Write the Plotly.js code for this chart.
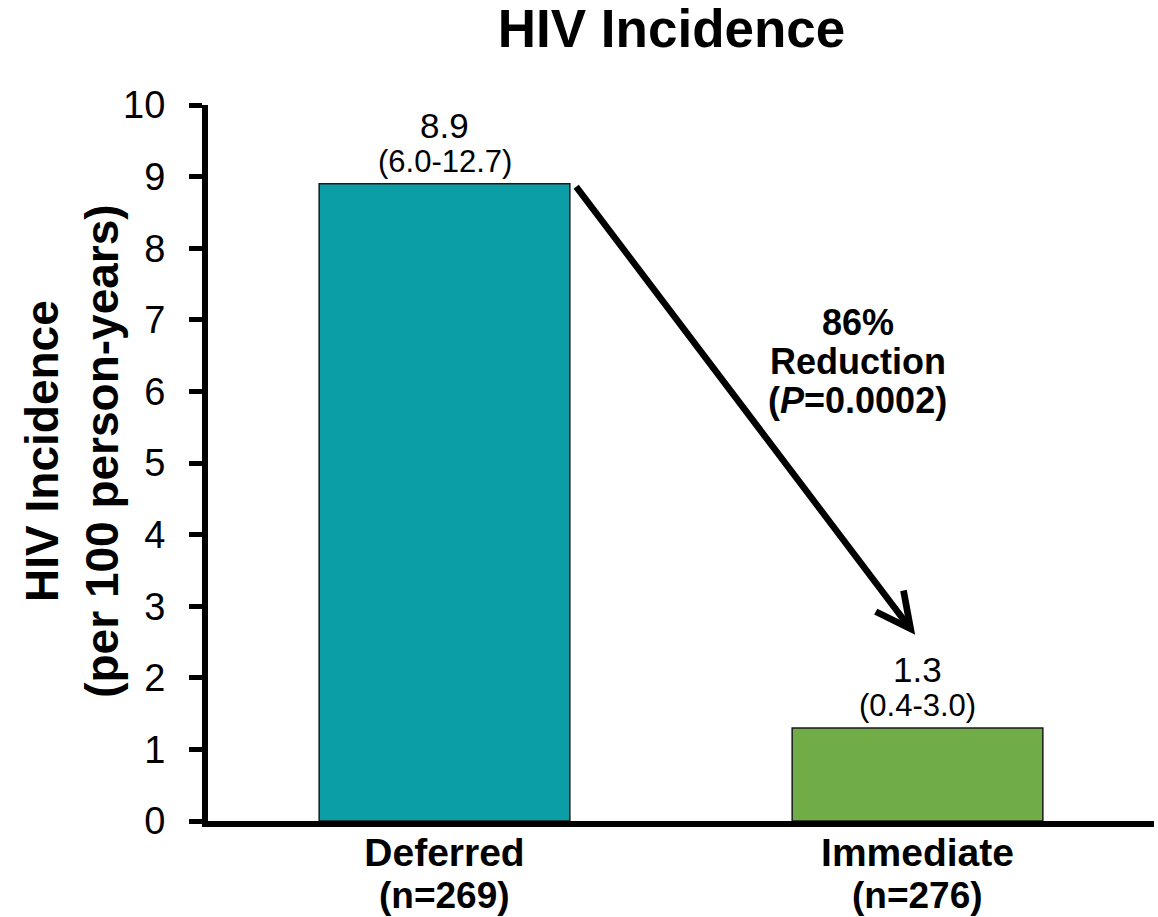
<!DOCTYPE html>
<html>
<head>
<meta charset="utf-8">
<script src="https://cdn.plot.ly/plotly-3.0.1.min.js"></script>
<style>html,body{margin:0;padding:0;background:#fff;}#chart{width:1158px;height:917px;}</style>
</head>
<body>
<div id="chart"></div>
<script>
// ---- data ----
const categories = ['Deferred', 'Immediate'];
const sampleSizes = [269, 276];
const incidence = [8.9, 1.3];
const ciLow = [6.0, 0.4];
const ciHigh = [12.7, 3.0];
const barColors = ['#0C9EA7', '#70AD47'];
const yTickVals = [0,1,2,3,4,5,6,7,8,9,10];
const reductionLines = ['86%', 'Reduction', '(<i>P</i>=0.0002)'];
const yTitleText = 'HIV Incidence<br>(per 100 person-years)';

const FONT = 'Liberation Sans, Arial, Helvetica, sans-serif';

const trace = {
  type: 'bar',
  x: categories,
  y: incidence,
  marker: {color: barColors, line: {color: '#1a1a1a', width: 1.5}},
  hoverinfo: 'skip',
  showlegend: false
};

const annotations = [];
categories.forEach((c, i) => {
  annotations.push({
    x: c, y: incidence[i], xref: 'x', yref: 'y',
    text: incidence[i].toFixed(1), showarrow: false,
    yanchor: 'middle', yshift: 58,
    font: {family: FONT, size: 35, color: '#000'}
  });
  annotations.push({
    x: c, y: incidence[i], xref: 'x', yref: 'y',
    text: '(' + ciLow[i].toFixed(1) + '-' + ciHigh[i].toFixed(1) + ')', showarrow: false,
    yanchor: 'middle', yshift: 22,
    font: {family: FONT, size: 31, color: '#000'}
  });
  annotations.push({
    x: c, y: 0, xref: 'x', yref: 'y',
    text: '(n=' + sampleSizes[i] + ')', showarrow: false,
    yanchor: 'middle', yshift: -74, borderpad: 0,
    font: {family: FONT, size: 37, color: '#000', weight: 'bold'}
  });
});

// reduction arrow from top of deferred bar toward immediate bar
annotations.push({
  x: 0.995, y: 2.60, xref: 'x', yref: 'y',
  ax: 0.276, ay: incidence[0] - 0.02, axref: 'x', ayref: 'y',
  text: '', showarrow: true, arrowhead: 5, arrowsize: 1.05, arrowwidth: 6.5,
  arrowcolor: '#000', standoff: 0, startstandoff: 0
});

reductionLines.forEach((t, k) => {
  annotations.push({
    x: 0.874, y: 6.42, xref: 'x', yref: 'y',
    text: '<b>' + t + '</b>', showarrow: false,
    yanchor: 'middle', yshift: (1 - k) * 39,
    font: {family: FONT, size: 36, color: '#000'}
  });
});

// y-axis title
annotations.push({
  x: -0.1438, y: 0.517, xref: 'paper', yref: 'paper',
  text: '<b>' + yTitleText + '</b>', showarrow: false, textangle: -90,
  xanchor: 'center', yanchor: 'middle',
  font: {family: FONT, size: 46, color: '#000'}
});

const layout = {
  width: 1158, height: 917,
  margin: {l: 208, r: 4, t: 105, b: 96},
  paper_bgcolor: '#fff', plot_bgcolor: '#fff',
  bargap: 0.47,
  title: {
    text: '<b>HIV Incidence</b>',
    font: {family: FONT, size: 53, color: '#000'},
    xref: 'paper', x: 0.49, xanchor: 'center',
    yref: 'container', y: 1 - 28/917, yanchor: 'middle'
  },
  xaxis: {
    type: 'category',
    range: [-0.5, 1.5],
    showline: true, linecolor: '#000', linewidth: 6,
    ticks: '', showgrid: false, zeroline: false,
    tickfont: {family: FONT, size: 39, color: '#000', weight: 'bold'},
    ticklabelstandoff: -8,
    fixedrange: true
  },
  yaxis: {
    range: [0, 10],
    tickvals: yTickVals,
    ticktext: yTickVals.map(String),
    showline: true, linecolor: '#000', linewidth: 6,
    ticks: 'outside', ticklen: 13, tickwidth: 5, tickcolor: '#000',
    showgrid: false, zeroline: false,
    tickfont: {family: FONT, size: 38, color: '#000'},
    ticklabelstandoff: 16,
    fixedrange: true
  },
  annotations: annotations
};

Plotly.newPlot('chart', [trace], layout, {displayModeBar: false, staticPlot: true});
</script>
</body>
</html>
